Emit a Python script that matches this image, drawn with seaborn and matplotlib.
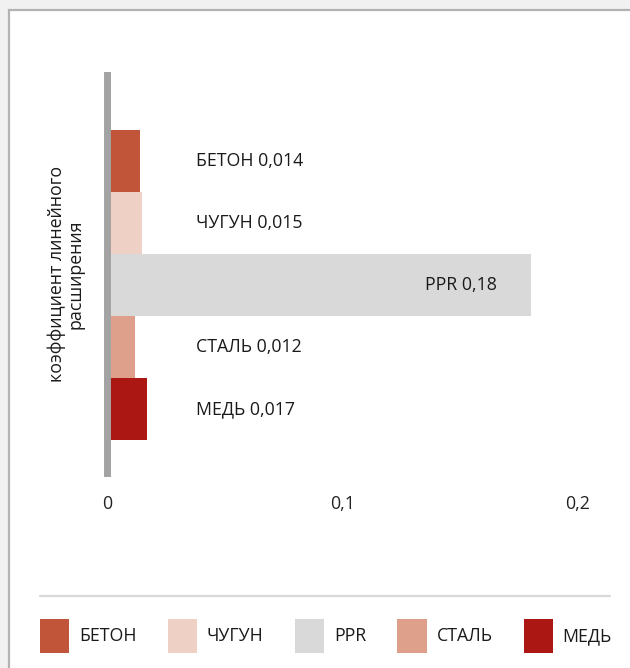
import matplotlib
matplotlib.use("Agg")
import matplotlib.pyplot as plt
import seaborn as sns
from matplotlib.patches import Rectangle, Patch
from matplotlib.lines import Line2D

materials = ["БЕТОН", "ЧУГУН", "PPR", "СТАЛЬ", "МЕДЬ"]
values = [0.014, 0.015, 0.18, 0.012, 0.017]
value_labels = ["0,014", "0,015", "0,18", "0,012", "0,017"]
colors = ["#c1553a", "#efd0c5", "#d9d9d9", "#dea08b", "#ab1814"]
x_ticks = [0, 0.1, 0.2]
x_tick_labels = ["0", "0,1", "0,2"]
y_title = "коэффициент линейного\nрасширения"

sns.set_style("white")
plt.rcParams["font.family"] = ["Open Sans", "DejaVu Sans"]
FS = 12.8

W, H = 630, 668
fig = plt.figure(figsize=(W / 100, H / 100), dpi=100)
fig.patch.set_facecolor("#f1f1f1")

# white card with grey border
fig.patches.append(Rectangle((9 / W, -0.1), 1.2, 1 - 10 / H + 0.1, transform=fig.transFigure,
                             facecolor="white", edgecolor="#b3b3b3", linewidth=1.6, zorder=-5))

ax = fig.add_axes([107 / W, 1 - 473 / H, (578 - 107) / W, (473 - 75) / H])
ax.set_facecolor("none")
ax.set_zorder(2)

sns.barplot(x=values, y=materials, hue=materials, palette=colors, orient="h",
            width=1.0, legend=False, saturation=1, linewidth=0, ax=ax)

ax.set_xlim(0, 0.2)
ax.set_ylim(5.03, -1.387)
ax.set_xticks(x_ticks)
ax.set_xticklabels(x_tick_labels, fontsize=FS, color="#222222")
ax.set_yticks([])
ax.tick_params(axis="x", length=0, pad=16)
ax.set_xlabel("")
ax.set_ylabel("")
for s in ["top", "right", "bottom"]:
    ax.spines[s].set_visible(False)
ax.spines["left"].set_color("#a3a3a3")
ax.spines["left"].set_linewidth(5)

for i, (m, v, lab) in enumerate(zip(materials, values, value_labels)):
    if v > 0.05:
        ax.text(v - 0.0145, i, f"{m} {lab}", ha="right", va="center", fontsize=FS, color="#1a1a1a")
    else:
        ax.text(0.038, i, f"{m} {lab}", ha="left", va="center", fontsize=FS, color="#1a1a1a")

fig.text(66 / W, 1 - 274 / H, y_title, rotation=90, ha="center", va="center",
         multialignment="center", fontsize=FS, color="#1a1a1a", linespacing=1.05)

# separator above legend
fig.add_artist(Line2D([40 / W, 610 / W], [1 - 596 / H, 1 - 596 / H], transform=fig.transFigure,
                      color="#d9d9d9", linewidth=1.6))

handles = [Patch(facecolor=c, edgecolor="none") for c in colors]
fig.legend(handles, materials, loc="center", bbox_to_anchor=(326 / W, 1 - 636 / H), ncol=5,
           frameon=False, fontsize=FS, handlelength=1.65, handleheight=2.6,
           handletextpad=0.55, columnspacing=1.75, labelcolor="#1a1a1a")

fig.savefig("out.png", dpi=100, facecolor=fig.get_facecolor())
